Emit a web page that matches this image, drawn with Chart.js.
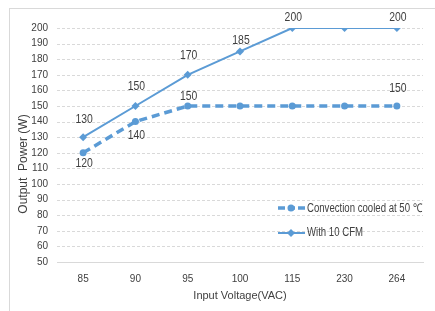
<!DOCTYPE html>
<html>
<head>
<meta charset="utf-8">
<script src="https://cdn.jsdelivr.net/npm/chart.js@4/dist/chart.umd.min.js"></script>
<style>
    html, body { margin: 0; padding: 0; background: #fff; overflow: hidden; }
    #wrap { position: relative; width: 435px; height: 311px; }
    #frame { position: absolute; left: 9px; top: 8px; width: 440px; height: 320px; border: 1px solid #d9d9d9; box-sizing: border-box; }
    canvas { position: absolute; left: 0; top: 0; }
</style>
</head>
<body>
<div id="wrap">
    <div id="frame"></div>
    <canvas id="chart" width="435" height="311"></canvas>
</div>
<script>
    "use strict";

    // Data
    const voltages = ["85", "90", "95", "100", "115", "230", "264"];
    const convection = [120, 140, 150, 150, 150, 150, 150];
    const withFan = [130, 150, 170, 185, 200, 200, 200];

    // Which points get a value label, and how far above(-)/below(+) the point
    const convectionLabelOffset = [11, 14, -10, null, null, null, -18];
    const withFanLabelOffset = [-18, -20, -19, -11, -11, null, -11];

    const blue = "#5b9bd5";
    const textColor = "#404040";
    const font = "'Liberation Sans', Arial, sans-serif";
    const narrow = 0.8; // squeeze custom text towards a Calibri-ish width

    function narrowText(ctx, text, x, y, align) {
        ctx.save();
        ctx.translate(x, y);
        ctx.scale(narrow, 1);
        ctx.textAlign = align;
        ctx.fillText(text, 0, 0);
        ctx.restore();
    }

    // Dashed grid lines, drawn at the y scale's own ticks
    const dashedGrid = {
        id: "dashedGrid",
        beforeDatasetsDraw(chart) {
            const ctx = chart.ctx, y = chart.scales.y, area = chart.chartArea;
            ctx.save();
            ctx.strokeStyle = "#d9d9d9";
            ctx.lineWidth = 1;
            ctx.setLineDash([3, 2]);
            y.ticks.forEach(function (t) {
                if (t.value === y.min) return;
                const py = Math.round(y.getPixelForValue(t.value)) + 0.5;
                ctx.beginPath();
                ctx.moveTo(area.left, py);
                ctx.lineTo(area.right, py);
                ctx.stroke();
            });
            ctx.restore();

            // y axis title, sitting a little below the plot's middle as in the original
            ctx.save();
            ctx.fillStyle = textColor;
            ctx.font = "12px " + font;
            ctx.textBaseline = "middle";
            ctx.translate(24, 164);
            ctx.rotate(-Math.PI / 2);
            ctx.textAlign = "center";
            ctx.fillText("Output  Power (W)", 0, 0);
            ctx.restore();
        }
    };

    // Value labels and in-plot legend
    const extras = {
        id: "extras",
        afterDatasetsDraw(chart) {
            const ctx = chart.ctx;
            ctx.save();
            ctx.fillStyle = textColor;
            ctx.font = "13px " + font;
            ctx.textBaseline = "middle";
            [[0, convectionLabelOffset], [1, withFanLabelOffset]].forEach(function (pair) {
                const meta = chart.getDatasetMeta(pair[0]);
                const values = chart.data.datasets[pair[0]].data;
                meta.data.forEach(function (pt, i) {
                    if (pair[1][i] === null) return;
                    narrowText(ctx, String(values[i]), pt.x + 1, pt.y + pair[1][i], "center");
                });
            });

            // legend
            const lx = 278, lw = 27;
            ctx.strokeStyle = blue;
            ctx.fillStyle = blue;
            ctx.lineWidth = 3.5;
            ctx.setLineDash([7, 3]);
            ctx.beginPath();
            ctx.moveTo(lx, 208);
            ctx.lineTo(lx + lw, 208);
            ctx.stroke();
            ctx.setLineDash([]);
            ctx.beginPath();
            ctx.arc(lx + 13, 208, 3.5, 0, Math.PI * 2);
            ctx.fill();

            ctx.lineWidth = 2;
            ctx.beginPath();
            ctx.moveTo(lx, 233);
            ctx.lineTo(lx + lw, 233);
            ctx.stroke();
            ctx.beginPath();
            ctx.moveTo(lx + 13, 229);
            ctx.lineTo(lx + 17, 233);
            ctx.lineTo(lx + 13, 237);
            ctx.lineTo(lx + 9, 233);
            ctx.closePath();
            ctx.fill();

            ctx.fillStyle = textColor;
            ctx.font = "12px " + font;
            narrowText(ctx, "Convection cooled at 50 \u2103", lx + 29, 209, "left");
            narrowText(ctx, "With 10 CFM", lx + 29, 233, "left");
            ctx.restore();
        }
    };

    new Chart(document.getElementById("chart").getContext("2d"), {
        type: "line",
        data: {
            labels: voltages,
            datasets: [
                {
                    label: "Convection cooled at 50 \u2103",
                    data: convection,
                    borderColor: blue,
                    backgroundColor: blue,
                    borderWidth: 3.5,
                    borderDash: [8, 5],
                    pointStyle: "circle",
                    pointRadius: 3.5,
                    pointBorderWidth: 0,
                    tension: 0
                },
                {
                    label: "With 10 CFM",
                    data: withFan,
                    borderColor: blue,
                    backgroundColor: blue,
                    borderWidth: 2,
                    pointStyle: "rectRot",
                    pointRadius: 4,
                    pointBorderWidth: 0,
                    tension: 0
                }
            ]
        },
        options: {
            responsive: false,
            animation: false,
            layout: { padding: { left: 0, top: 28, right: 12, bottom: 0 } },
            plugins: {
                legend: { display: false },
                tooltip: { enabled: false }
            },
            scales: {
                x: {
                    offset: true,
                    grid: { display: false, drawTicks: false },
                    border: { display: true, color: "#d9d9d9", width: 1 },
                    ticks: { autoSkip: false, maxRotation: 0, color: textColor, font: { family: font, size: 10 }, padding: 11 },
                    title: {
                        display: true,
                        text: "Input Voltage(VAC)",
                        color: textColor,
                        font: { family: font, size: 11 },
                        padding: { top: 0, bottom: 8 }
                    },
                    afterFit: function (scale) { scale.height = 49; }
                },
                y: {
                    min: 50,
                    max: 200,
                    ticks: { stepSize: 10, autoSkip: false, color: textColor, font: { family: font, size: 10 }, padding: 9 },
                    grid: { display: false, drawTicks: false },
                    border: { display: false },
                    title: { display: false },
                    afterFit: function (scale) { scale.width = 57; }
                }
            }
        },
        plugins: [dashedGrid, extras]
    });
</script>
</body>
</html>
